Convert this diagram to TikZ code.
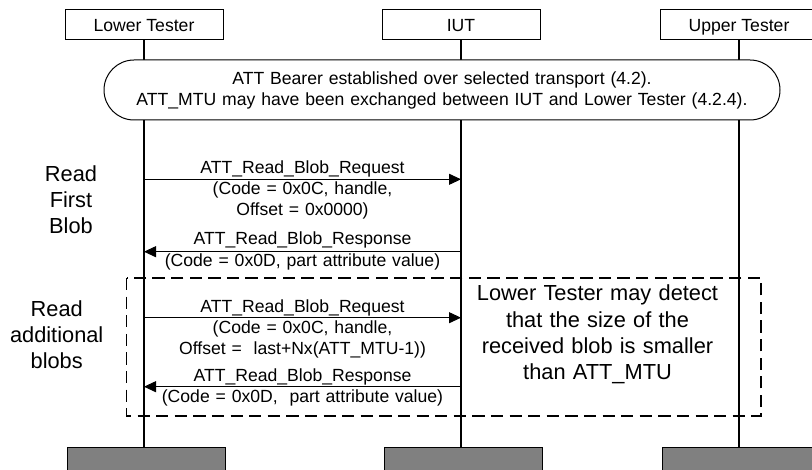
\documentclass[tikz,border=0pt]{standalone}
\usepackage{fontspec}
\setmainfont{Liberation Sans}
\usetikzlibrary{arrows.meta}
\begin{document}
\begin{tikzpicture}[x=1pt,y=-1pt,
  actor/.style={draw,line width=1pt,minimum width=158pt,minimum height=30pt,inner sep=0pt,
    text height=12.6pt,text depth=0pt,font=\fontsize{17.6}{21.3}\selectfont},
  life/.style={line width=1.7pt},
  msg/.style={line width=1pt,-{Triangle[length=12pt,width=11pt]}},
  lbl/.style={text width=330pt,align=center,inner sep=0pt,anchor=base,
    font=\fontsize{17.6}{21.3}\selectfont},
  big/.style={text width=270pt,align=center,inner sep=0pt,anchor=base,
    font=\fontsize{21.8}{26.1}\selectfont},
  pillbox/.style={draw,fill=white,line width=1pt,rounded corners=30pt,
    minimum width=676pt,minimum height=60pt,inner sep=0pt,text width=660pt,align=center,
    font=\fontsize{17.6}{21}\selectfont},
  greybox/.style={draw,fill=gray,line width=1pt,minimum width=158pt,minimum height=40pt,
    inner sep=0pt,anchor=north},
  frame/.style={line width=1.2pt,dash pattern=on 12.3pt off 6.3pt}
]
\clip (0,0) rectangle (812,470);
\fill[white] (0,0) rectangle (812,470);

% actors
\node[actor] (lt) at (144,25) {Lower Tester};
\node[actor] (iut) at (461,25) {IUT};
\node[actor] (ut) at (739,25) {Upper Tester};

% bottom boxes
\node[greybox] (ltb) at (146,446.7) {};
\node[greybox] (iutb) at (463,446.7) {};
\node[greybox] (utb) at (741,446.7) {};

% lifelines
\draw[life] (lt.south) -- (lt.south |- ltb.north);
\draw[life] (iut.south) -- (iut.south |- iutb.north);
\draw[life] (ut.south) -- (ut.south |- utb.north);

% preamble pill
\node[pillbox] (pill) at (442,90) {ATT Bearer established over selected transport (4.2).\\
ATT\_MTU may have been exchanged between IUT and Lower Tester (4.2.4).};

% message end points
\coordinate (r1l) at (lt.south |- 0,179.3);
\coordinate (r1r) at (iut.south |- 0,179.3);
\coordinate (s1l) at (lt.south |- 0,251.7);
\coordinate (s1r) at (iut.south |- 0,251.7);
\coordinate (r2l) at (lt.south |- 0,317.7);
\coordinate (r2r) at (iut.south |- 0,317.7);
\coordinate (s2l) at (lt.south |- 0,386.7);
\coordinate (s2r) at (iut.south |- 0,386.7);

\draw[msg] (r1l) -- (r1r);
\draw[msg] (s1r) -- (s1l);
\draw[msg] (r2l) -- (r2r);
\draw[msg] (s2r) -- (s2l);

% labels
\node[lbl] (l1) at (302.5,173.3) {ATT\_Read\_Blob\_Request\\(Code = 0x0C, handle,\\Offset = 0x0000)};
\node[lbl] (l2) at (302.5,245) {ATT\_Read\_Blob\_Response\\(Code = 0x0D, part attribute value)};
\node[lbl] (l3) at (302.5,312.3) {ATT\_Read\_Blob\_Request\\(Code = 0x0C, handle,\\Offset =\ \ last+Nx(ATT\_MTU-1))};
\node[lbl] (l4) at (302.5,381.7) {ATT\_Read\_Blob\_Response\\(Code = 0x0D,\ \ part attribute value)};

% phase labels
\node[big,text width=120pt] (ph1) at (71,181.5) {Read\\First\\Blob};
\node[big,text width=120pt] (ph2) at (56.7,316.7) {Read\\additional\\blobs};

% dashed frame
\draw[frame] (126.7,278) rectangle (761,416);

% note
\node[big] (note) at (597.5,301) {Lower Tester may detect\\that the size of the\\received blob is smaller\\than ATT\_MTU};
\end{tikzpicture}
\end{document}
